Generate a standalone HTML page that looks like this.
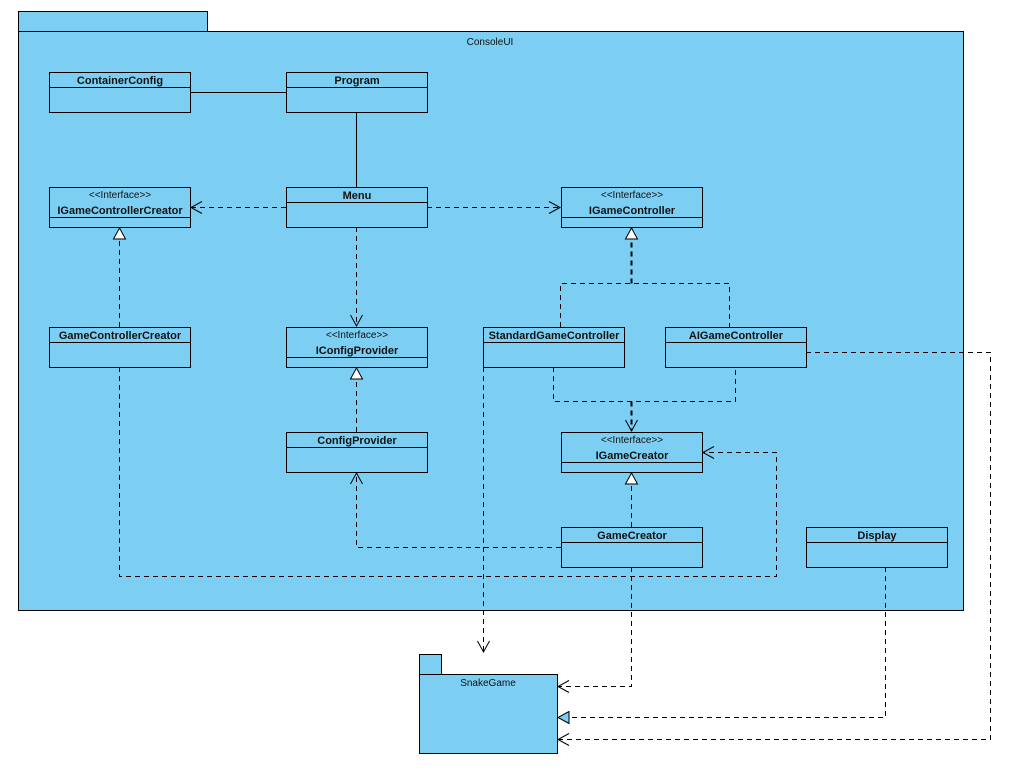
<!DOCTYPE html>
<html><head><meta charset="utf-8"><style>
html,body{margin:0;padding:0;background:#fff;}
text{font-family:"Liberation Sans",Arial,sans-serif;fill:#111;}
.b{font-weight:bold;font-size:11px;}
.s{font-size:10px;}
</style></head><body>
<svg width="1010" height="767" viewBox="0 0 1010 767" xmlns="http://www.w3.org/2000/svg">
<defs>
<marker id="open" markerWidth="14" markerHeight="14" refX="12" refY="7" orient="auto" markerUnits="userSpaceOnUse">
<path d="M1,1 L12,7 L1,13" fill="none" stroke="#000" stroke-width="1"/></marker>
<marker id="tri" markerWidth="14" markerHeight="14" refX="12" refY="7" orient="auto" markerUnits="userSpaceOnUse">
<path d="M1,1 L12,7 L1,13 Z" fill="#fff" stroke="#000" stroke-width="1"/></marker>
<marker id="trib" markerWidth="14" markerHeight="14" refX="12" refY="7" orient="auto" markerUnits="userSpaceOnUse">
<path d="M1,1 L12,7 L1,13 Z" fill="#7ccff3" stroke="#000" stroke-width="1"/></marker>
</defs>
<g fill="#7ccff3" stroke="#000" stroke-width="1">
<rect x="18.5" y="11.5" width="189" height="20"/>
<rect x="18.5" y="31.5" width="945" height="579"/>
<rect x="419.5" y="654.5" width="22" height="20"/>
<rect x="419.5" y="674.5" width="138" height="79"/>
</g>
<text x="490" y="45" class="s" text-anchor="middle">ConsoleUI</text>
<text x="488" y="686" class="s" text-anchor="middle">SnakeGame</text>
<g fill="#7ccff3" stroke="#000" stroke-width="1">
<rect x="49.5" y="72.5" width="141" height="40"/><line x1="49.5" y1="87.5" x2="190.5" y2="87.5"/>
<rect x="286.5" y="72.5" width="141" height="40"/><line x1="286.5" y1="87.5" x2="427.5" y2="87.5"/>
<rect x="49.5" y="187.5" width="141" height="40"/><line x1="49.5" y1="217.5" x2="190.5" y2="217.5"/>
<rect x="286.5" y="187.5" width="141" height="40"/><line x1="286.5" y1="202.5" x2="427.5" y2="202.5"/>
<rect x="561.5" y="187.5" width="141" height="40"/><line x1="561.5" y1="217.5" x2="702.5" y2="217.5"/>
<rect x="49.5" y="327.5" width="141" height="40"/><line x1="49.5" y1="342.5" x2="190.5" y2="342.5"/>
<rect x="286.5" y="327.5" width="141" height="40"/><line x1="286.5" y1="357.5" x2="427.5" y2="357.5"/>
<rect x="483.5" y="327.5" width="141" height="40"/><line x1="483.5" y1="342.5" x2="624.5" y2="342.5"/>
<rect x="665.5" y="327.5" width="141" height="40"/><line x1="665.5" y1="342.5" x2="806.5" y2="342.5"/>
<rect x="286.5" y="432.5" width="141" height="40"/><line x1="286.5" y1="447.5" x2="427.5" y2="447.5"/>
<rect x="561.5" y="432.5" width="141" height="40"/><line x1="561.5" y1="462.5" x2="702.5" y2="462.5"/>
<rect x="561.5" y="527.5" width="141" height="40"/><line x1="561.5" y1="542.5" x2="702.5" y2="542.5"/>
<rect x="806.5" y="527.5" width="141" height="40"/><line x1="806.5" y1="542.5" x2="947.5" y2="542.5"/>
</g>
<g text-anchor="middle">
<text x="120" y="84" class="b">ContainerConfig</text>
<text x="357" y="84" class="b">Program</text>
<text x="120" y="198" class="s">&lt;&lt;Interface&gt;&gt;</text>
<text x="120" y="214" class="b">IGameControllerCreator</text>
<text x="357" y="199" class="b">Menu</text>
<text x="632" y="198" class="s">&lt;&lt;Interface&gt;&gt;</text>
<text x="632" y="214" class="b">IGameController</text>
<text x="120" y="339" class="b">GameControllerCreator</text>
<text x="357" y="338" class="s">&lt;&lt;Interface&gt;&gt;</text>
<text x="357" y="354" class="b">IConfigProvider</text>
<text x="554" y="339" class="b">StandardGameController</text>
<text x="736" y="339" class="b">AIGameController</text>
<text x="357" y="444" class="b">ConfigProvider</text>
<text x="632" y="443" class="s">&lt;&lt;Interface&gt;&gt;</text>
<text x="632" y="459" class="b">IGameCreator</text>
<text x="632" y="539" class="b">GameCreator</text>
<text x="877" y="539" class="b">Display</text>
</g>
<g fill="none" stroke="#000" stroke-width="1">
<line x1="190" y1="92.5" x2="286" y2="92.5"/>
<line x1="356.5" y1="112" x2="356.5" y2="187"/>
</g>
<g fill="none" stroke="#000" stroke-width="1" stroke-dasharray="5,4">
<path d="M286,207.5 L191,207.5" marker-end="url(#open)"/>
<path d="M427,207.5 L560,207.5" marker-end="url(#open)"/>
<path d="M356.5,227 L356.5,326" marker-end="url(#open)"/>
<path d="M119.5,327 L119.5,228" marker-end="url(#tri)"/>
<path d="M356.5,432 L356.5,368" marker-end="url(#tri)"/>
<path d="M560.5,327 L560.5,283.5 L729.5,283.5 L729.5,327"/>
<path d="M631.5,283.5 L631.5,228" marker-end="url(#tri)" stroke-width="2"/>
<path d="M553.5,367 L553.5,401.5 L735.5,401.5 L735.5,367"/>
<path d="M631.5,401.5 L631.5,431" marker-end="url(#open)" stroke-width="2"/>
<path d="M631.5,527 L631.5,473" marker-end="url(#tri)"/>
<path d="M561,547.5 L356.5,547.5 L356.5,473" marker-end="url(#open)"/>
<path d="M119.5,367 L119.5,576.5 L776.5,576.5 L776.5,452.5 L703,452.5" marker-end="url(#open)"/>
<path d="M483.5,367 L483.5,652" marker-end="url(#open)"/>
<path d="M631.5,567 L631.5,686.5 L558,686.5" marker-end="url(#open)"/>
<path d="M885.5,567 L885.5,717.5 L558,717.5" marker-end="url(#trib)"/>
<path d="M806,352.5 L990.5,352.5 L990.5,739.5 L558,739.5" marker-end="url(#open)"/>
</g>
</svg>
</body></html>
